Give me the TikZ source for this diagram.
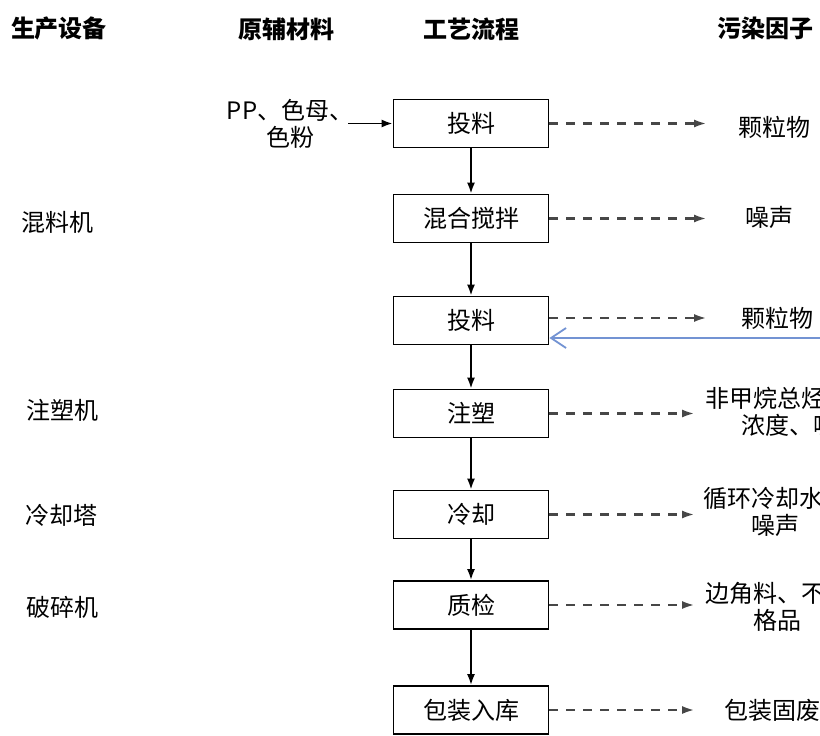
\documentclass[tikz,border=0pt]{standalone}
\usepackage{fontspec}
\setmainfont{Noto Sans CJK SC}
\usetikzlibrary{arrows.meta}
\definecolor{fbblue}{HTML}{7393D3}
\begin{document}
\begin{tikzpicture}[x=1pt,y=-1pt,
  box/.style={draw, line width=1.8pt, minimum width=155pt, minimum height=48pt, inner sep=0pt, font=\fontsize{24}{27}\selectfont},
  txt/.style={font=\fontsize{24}{27}\selectfont, align=center, inner sep=0pt},
  hdr/.style={font=\fontsize{24}{27}\selectfont\bfseries, inner sep=0pt},
  flow/.style={line width=1.8pt, -{Latex[length=11pt,width=8pt]}},
  emit/.style={line width=2.6pt, black!72, dash pattern=on 9pt off 8pt, -{Latex[length=13pt,width=8pt]}},
  fback/.style={line width=1.8pt, fbblue, -{Straight Barb[length=15pt,width=20pt]}}
]
\useasboundingbox (0,0) rectangle (820,736);
\clip (0,0) rectangle (820,736);
\fill[white] (0,0) rectangle (820,736);

% headers
\node[hdr] (h1) at (59,28) {生产设备};
\node[hdr] (h2) at (286,29) {原辅材料};
\node[hdr] (h3) at (471,29) {工艺流程};
\node[hdr] (h4) at (765,28) {污染因子};

% process boxes
\node[box] (b1) at (471,123.5) {投料};
\node[box] (b2) at (471,218.5) {混合搅拌};
\node[box] (b3) at (471,320.5) {投料};
\node[box] (b4) at (471,413.5) {注塑};
\node[box] (b5) at (471,514.5) {冷却};
\node[box] (b6) at (471,605) {质检};
\node[box] (b7) at (471,710) {包装入库};

% vertical flow
\draw[flow] (b1) -- (b2);
\draw[flow] (b2) -- (b3);
\draw[flow] (b3) -- (b4);
\draw[flow] (b4) -- (b5);
\draw[flow] (b5) -- (b6);
\draw[flow] (b6) -- (b7);

% raw material
\node[txt] (raw) at (290,124) {PP、色母、\\色粉};
\coordinate (rs) at (348,123.5);
\draw[flow] (rs) -- (b1.west);

% equipment
\node[txt] (q1) at (57,222) {混料机};
\node[txt] (q2) at (63,410) {注塑机};
\node[txt] (q3) at (61,515) {冷却塔};
\node[txt] (q4) at (63,607) {破碎机};

% pollutants
\node[txt] (p1) at (774,127) {颗粒物};
\node[txt] (p2) at (769,217) {噪声};
\node[txt] (p3) at (777,318) {颗粒物};
\node[txt] (p4) at (801,411.5) {非甲烷总烃、臭气\\浓度、噪声};
\node[txt] (p5) at (775,511.5) {循环冷却水、\\噪声};
\node[txt] (p6) at (777,606.5) {边角料、不合\\格品};
\node[txt] (p7) at (772,710) {包装固废};

% emission arrows
\coordinate (e1) at (707,123.5);
\coordinate (e2) at (707,218.5);
\coordinate (e3) at (707,318);
\coordinate (e4) at (695,413.5);
\coordinate (e5) at (695,514.5);
\coordinate (e6) at (695,605);
\coordinate (e7) at (695,710);
\draw[emit] (b1.east) -- (e1);
\draw[emit] (b2.east) -- (e2);
\draw[emit] (b3.east |- e3) -- (e3);
\draw[emit] (b4.east) -- (e4);
\draw[emit] (b5.east) -- (e5);
\draw[emit] (b6.east) -- (e6);
\draw[emit] (b7.east) -- (e7);

% feedback (blue)
\coordinate (fb) at (821,338);
\draw[fback] (fb) -- (b3.east |- fb);
\end{tikzpicture}
\end{document}
